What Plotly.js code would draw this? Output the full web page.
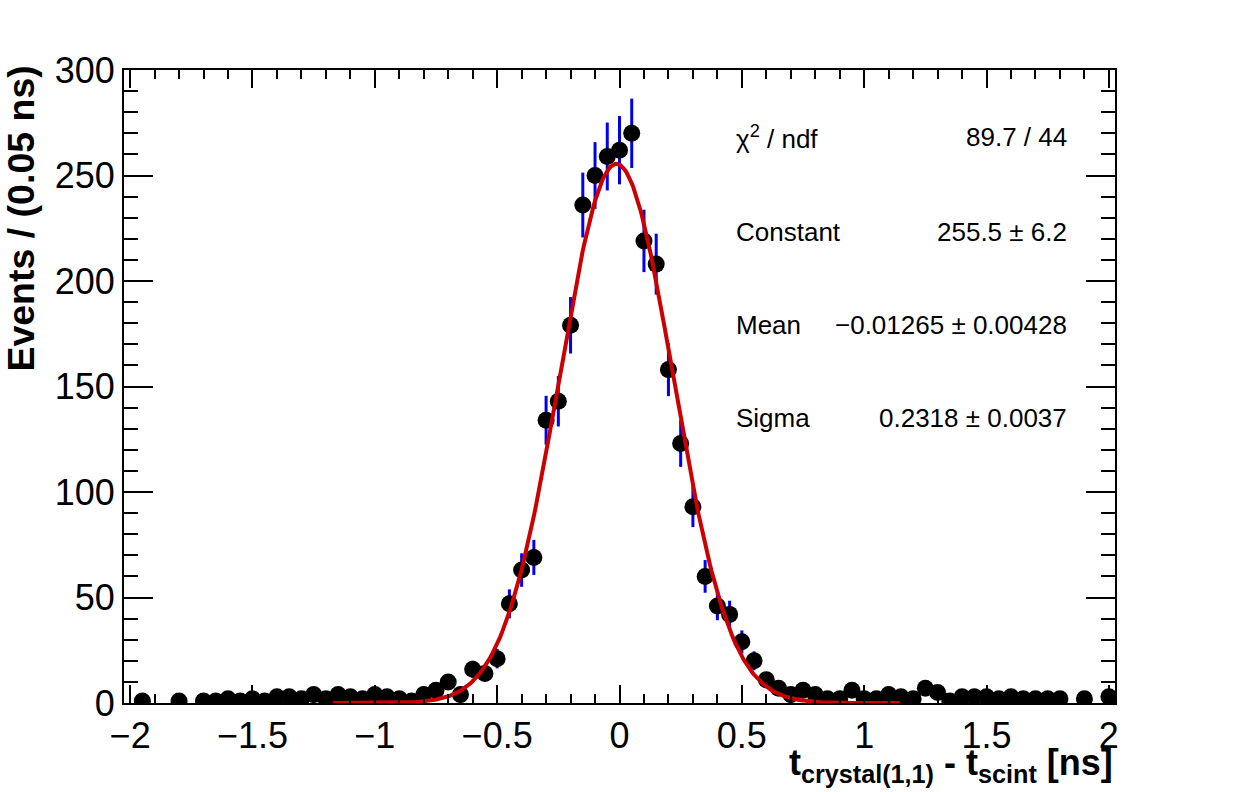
<!DOCTYPE html>
<html>
<head>
<meta charset="utf-8">
<script src="https://cdn.plot.ly/plotly-3.0.1.min.js"></script>
<style>
  html, body { margin: 0; padding: 0; background: #ffffff; }
  #plot { width: 1240px; height: 792px; }
</style>
</head>
<body>
<div id="plot"></div>
<script>
// Time difference histogram: bin centres [ns] and event counts per 0.05 ns bin
const binCenters = [
  -1.95, -1.8, -1.7, -1.65, -1.6, -1.55, -1.5, -1.45, -1.4, -1.35,
  -1.3, -1.25, -1.2, -1.15, -1.1, -1.05, -1.0, -0.95, -0.9, -0.85,
  -0.8, -0.75, -0.7, -0.65, -0.6, -0.55, -0.5, -0.45, -0.4, -0.35,
  -0.3, -0.25, -0.2, -0.15, -0.1, -0.05, 0.0, 0.05, 0.1, 0.15,
  0.2, 0.25, 0.3, 0.35, 0.4, 0.45, 0.5, 0.55, 0.6, 0.65,
  0.7, 0.75, 0.8, 0.85, 0.9, 0.95, 1.0, 1.05, 1.1, 1.15,
  1.2, 1.25, 1.3, 1.35, 1.4, 1.45, 1.5, 1.55, 1.6, 1.65,
  1.7, 1.75, 1.8, 1.9, 2.0
];
const eventCounts = [
  1, 1, 1, 1, 2, 1, 2, 1, 3, 3,
  2, 4, 2, 4, 3, 2, 4, 3, 2, 1,
  4, 6, 10, 4, 16, 14, 21, 47, 63, 69,
  134, 143, 179, 236, 250, 259, 262, 270, 219, 208,
  158, 123, 93, 60, 46, 42, 29, 20, 11, 7,
  4, 6, 4, 2, 2, 6, 2, 2, 4, 3,
  2, 7, 5, 1, 3, 3, 3, 2, 3, 2,
  2, 2, 2, 2, 3
];

// Gaussian fit result
const fitConstant = 255.5, fitConstantErr = 6.2;
const fitMean = -0.01265, fitMeanErr = 0.00428;
const fitSigma = 0.2318, fitSigmaErr = 0.0037;
const fitChi2 = 89.7, fitNdf = 44;

// Sample the fitted Gaussian over mean ± 5 sigma
const curveX = [], curveY = [];
const nSamples = 400;
const xLo = fitMean - 5 * fitSigma, xHi = fitMean + 5 * fitSigma;
for (let i = 0; i <= nSamples; i++) {
  const x = xLo + (xHi - xLo) * i / nSamples;
  curveX.push(x);
  curveY.push(fitConstant * Math.exp(-0.5 * Math.pow((x - fitMean) / fitSigma, 2)));
}

const FONT = '"Liberation Sans", Arial, Helvetica, sans-serif';

const dataTrace = {
  x: binCenters,
  y: eventCounts,
  type: 'scatter',
  mode: 'markers',
  marker: { color: '#000000', size: 17, symbol: 'circle' },
  error_y: { type: 'sqrt', visible: true, color: '#0000ee', thickness: 3, width: 0 },
  hoverinfo: 'x+y',
  showlegend: false
};

const fitTrace = {
  x: curveX,
  y: curveY,
  type: 'scatter',
  mode: 'lines',
  line: { color: '#cc0000', width: 4 },
  hoverinfo: 'skip',
  showlegend: false
};

function fmt(v) { return (v < 0 ? '\u2212' : '') + Math.abs(v); }

// Fit statistics panel rows: label, value, vertical position (paper)
const statLabels = ['\u03c7<sup>2</sup> / ndf', 'Constant', 'Mean', 'Sigma'];
const statValues = [
  fitChi2 + ' / ' + fitNdf,
  fitConstant + ' \u00b1 ' + fitConstantErr,
  fmt(fitMean) + ' \u00b1 ' + fitMeanErr,
  fitSigma + ' \u00b1 ' + fitSigmaErr
];
const statRowsY = [0.894, 0.744, 0.597, 0.451];

const annotations = [];
for (let i = 0; i < statLabels.length; i++) {
  annotations.push({
    xref: 'paper', yref: 'paper', x: 0.616, y: statRowsY[i],
    xanchor: 'left', yanchor: 'middle', showarrow: false,
    text: statLabels[i], font: { family: FONT, size: 26, color: '#000' }
  });
  annotations.push({
    xref: 'paper', yref: 'paper', x: 0.954, y: statRowsY[i],
    xanchor: 'right', yanchor: 'middle', showarrow: false,
    text: statValues[i], font: { family: FONT, size: 26, color: '#000' }
  });
}

// Axis titles, aligned to the far end of each axis
annotations.push({
  xref: 'paper', yref: 'paper', x: 1.0, y: -0.058,
  xanchor: 'right', yanchor: 'top', showarrow: false,
  text: '<b>t<sub>crystal(1,1)</sub> - t<sub>scint</sub> [ns]</b>',
  font: { family: FONT, size: 36, color: '#000' }
});
annotations.push({
  xref: 'paper', yref: 'paper', x: -0.104, y: 1.01,
  xanchor: 'center', yanchor: 'top', showarrow: false, textangle: -90,
  text: '<b>Events / (0.05 ns)</b>',
  font: { family: FONT, size: 37.5, color: '#000' }
});

const layout = {
  width: 1240,
  height: 792,
  margin: { l: 124, r: 125, t: 70, b: 89, pad: 0 },
  paper_bgcolor: '#ffffff',
  plot_bgcolor: '#ffffff',
  font: { family: FONT, size: 36, color: '#000' },
  showlegend: false,
  xaxis: {
    range: [-2.025, 2.025],
    tick0: 0, dtick: 0.5,
    ticks: 'inside', ticklen: 18, tickwidth: 2, tickcolor: '#000',
    minor: { dtick: 0.1, ticks: 'inside', ticklen: 9, tickwidth: 2, tickcolor: '#000', showgrid: false },
    mirror: 'allticks', showline: true, linecolor: '#000', linewidth: 2,
    showgrid: false, zeroline: false,
    tickfont: { family: FONT, size: 36, color: '#000' },
    fixedrange: true
  },
  yaxis: {
    range: [0, 300],
    tick0: 0, dtick: 50,
    ticks: 'inside', ticklen: 29, tickwidth: 2, tickcolor: '#000',
    minor: { dtick: 10, ticks: 'inside', ticklen: 14, tickwidth: 2, tickcolor: '#000', showgrid: false },
    mirror: 'allticks', showline: true, linecolor: '#000', linewidth: 2,
    showgrid: false, zeroline: false,
    tickfont: { family: FONT, size: 36, color: '#000' },
    fixedrange: true
  },
  annotations: annotations
};

Plotly.newPlot('plot', [dataTrace, fitTrace], layout, { displayModeBar: false, staticPlot: true });
</script>
</body>
</html>
